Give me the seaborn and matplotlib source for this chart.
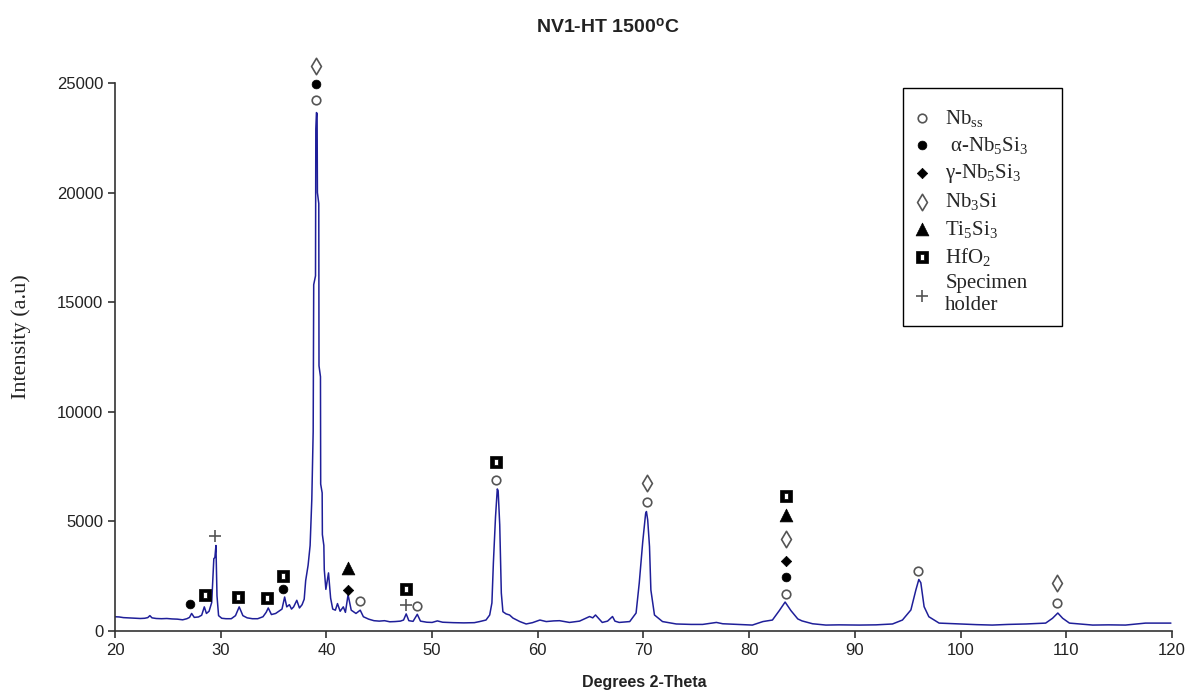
import matplotlib
matplotlib.use("Agg")
import matplotlib.pyplot as plt
import pandas as pd
import seaborn as sns
from matplotlib.path import Path
from matplotlib.patches import Rectangle

# XRD pattern (2-theta in degrees, intensity in a.u.)
two_theta = [
    20.0, 20.4, 20.8, 21.2, 21.6, 22.0, 22.4, 22.8, 23.1, 23.3, 23.5, 23.9,
    24.4, 24.9, 25.4, 25.9, 26.4, 26.8, 27.05, 27.25, 27.5, 27.9, 28.2, 28.45,
    28.65, 28.9, 29.15, 29.35, 29.45, 29.55, 29.65, 29.8, 30.1, 30.5, 31.0,
    31.4, 31.75, 32.1, 32.5, 33.0, 33.5, 34.0, 34.3, 34.5, 34.8, 35.2, 35.5,
    35.8, 36.05, 36.25, 36.5, 36.7, 36.9, 37.2, 37.45, 37.7, 37.9, 38.04,
    38.27, 38.46, 38.62, 38.75, 38.8, 38.97, 39.0, 39.06, 39.12, 39.15, 39.28,
    39.3, 39.44, 39.46, 39.6, 39.62, 39.76, 39.8, 39.95, 40.2, 40.4, 40.6,
    40.85, 41.05, 41.3, 41.6, 41.8, 42.05, 42.35, 42.8, 43.2, 43.5, 44.0,
    44.5, 45.0, 45.5, 46.0, 46.5, 47.0, 47.3, 47.55, 47.8, 48.2, 48.6, 48.9,
    49.5, 50.0, 50.5, 51.0, 52.0, 53.0, 54.0, 54.5, 55.1, 55.45, 55.66, 55.8,
    56.0, 56.17, 56.25, 56.4, 56.55, 56.7, 57.0, 57.33, 57.65, 58.3, 58.9,
    59.5, 60.2, 60.8, 61.5, 62.06, 63.0, 63.95, 64.9, 65.2, 65.46, 65.8, 66.1,
    66.6, 67.07, 67.3, 67.7, 68.7, 69.3, 69.6, 69.93, 70.2, 70.28, 70.4,
    70.57, 70.7, 71.04, 71.8, 73.1, 74.5, 75.6, 76.9, 77.5, 78.8, 80.3, 81.3,
    82.2, 82.85, 83.4, 83.95, 84.6, 85.0, 86.0, 87.26, 88.5, 90.4, 92.0,
    93.56, 94.5, 95.3, 95.77, 96.05, 96.24, 96.55, 97.0, 97.97, 99.87, 101.5,
    103.0, 104.5, 106.2, 108.05, 108.7, 109.2, 109.66, 110.3, 112.5, 114.0,
    115.6, 117.5, 119.9,
]
intensity = [
    650, 640, 610, 600, 590, 580, 570, 580, 610, 700, 600, 570,
    560, 570, 550, 540, 510, 560, 620, 800, 620, 640, 720, 1100,
    800, 900, 1300, 3300, 3350, 3900, 1600, 700, 580, 560, 560,
    700, 1100, 700, 600, 560, 560, 650, 850, 1050, 750, 800, 900,
    1000, 1550, 1100, 1200, 1000, 1100, 1400, 1050, 1200, 1450, 2300,
    3000, 3900, 6000, 9100, 15800, 16200, 22900, 23650, 23600, 20000, 19500,
    12100, 11600, 6700, 6300, 4400, 3900, 2800, 1900, 2650, 1500, 1000,
    950, 1250, 900, 1100, 850, 1650, 950, 800, 950, 650, 540,
    470, 450, 470, 420, 430, 450, 500, 780, 470, 440, 760, 450,
    400, 390, 460, 400, 380, 370, 380, 430, 500, 730, 1280, 3120,
    5200, 6480, 6400, 4840, 1730, 880, 780, 730, 590, 430, 320,
    380, 500, 430, 460, 470, 390, 450, 660, 600, 730, 550, 390,
    450, 660, 450, 390, 430, 820, 2190, 4070, 5350, 5450, 5060,
    3850, 1870, 730, 430, 320, 300, 300, 390, 330, 300, 270, 430,
    500, 930, 1320, 930, 550, 460, 330, 270, 280, 270, 280,
    320, 500, 960, 1870, 2350, 2200, 1110, 650, 360, 320, 290,
    270, 300, 320, 360, 580, 820, 580, 360, 270, 280,
    270, 360, 360,
]

# phase labels placed above the peaks
nbss_x = [39.0, 43.2, 48.6, 56.0, 70.3, 83.5, 96.0, 109.1]
nbss_y = [24225, 1370, 1140, 6890, 5885, 1690, 2740, 1280]
alpha_x = [27.1, 35.9, 39.0, 83.5]
alpha_y = [1230, 1915, 24955, 2465]
gamma_x = [42.0, 83.5]
gamma_y = [1870, 3195]
nb3si_x = [39.0, 70.3, 83.5, 109.1]
nb3si_y = [25775, 6750, 4195, 2190]
ti5si3_x = [42.0, 83.5]
ti5si3_y = [2875, 5290]
hfo2_x = [28.5, 31.6, 34.4, 35.9, 47.5, 56.0, 83.5]
hfo2_y = [1640, 1550, 1505, 2510, 1915, 7710, 6160]
holder_x = [29.45, 47.5]
holder_y = [4335, 1185]

x_ticks = [20, 30, 40, 50, 60, 70, 80, 90, 100, 110, 120]
y_ticks = [0, 5000, 10000, 15000, 20000, 25000]

LINE = "#1f1f99"
GREY = "#555555"

# black square with a white slot for HfO2
hfo2_marker = Path(
    [(-1, -1), (1, -1), (1, 1), (-1, 1), (-1, -1),
     (-0.35, -0.6), (-0.35, 0.6), (0.35, 0.6), (0.35, -0.6), (-0.35, -0.6)],
    [Path.MOVETO, Path.LINETO, Path.LINETO, Path.LINETO, Path.CLOSEPOLY,
     Path.MOVETO, Path.LINETO, Path.LINETO, Path.LINETO, Path.CLOSEPOLY],
)

sns.set_theme(style="ticks")
plt.rcParams["font.family"] = ["Liberation Sans", "DejaVu Sans"]
plt.rcParams["mathtext.fontset"] = "custom"
plt.rcParams["mathtext.rm"] = "Liberation Serif"
plt.rcParams["mathtext.it"] = "Liberation Serif:italic"
plt.rcParams["mathtext.bf"] = "Liberation Sans:bold"

fig = plt.figure(figsize=(11.88, 6.95), dpi=100)
ax = fig.add_axes([0.0968, 0.0921, 0.8897, 0.7885])

df = pd.DataFrame({"two_theta": two_theta, "intensity": intensity})
sns.lineplot(data=df, x="two_theta", y="intensity", color=LINE, linewidth=1.1,
             estimator=None, sort=False, ax=ax)

phases = [
    ("Nb$_{\\mathrm{ss}}$", nbss_x, nbss_y, "o", 38, "white", GREY, 1.2),
    (" α-Nb$_5$Si$_3$", alpha_x, alpha_y, "o", 40, "black", "black", 0.5),
    ("γ-Nb$_5$Si$_3$", gamma_x, gamma_y, "D", 28, "black", "black", 0.5),
    ("Nb$_3$Si", nb3si_x, nb3si_y, "d", 70, "white", GREY, 1.2),
    ("Ti$_5$Si$_3$", ti5si3_x, ti5si3_y, "^", 85, "black", "black", 0.5),
    ("HfO$_2$", hfo2_x, hfo2_y, hfo2_marker, 70, "black", "black", 0.5),
    ("Specimen\nholder", holder_x, holder_y, "+", 80, GREY, GREY, 1.2),
]
for label, xs, ys, marker, size, face, edge, lw in phases:
    sns.scatterplot(x=xs, y=ys, marker=marker, s=size, color=face,
                    edgecolor=edge, linewidth=lw, clip_on=False, zorder=3,
                    label=label, ax=ax)

ax.set_xlim(20, 120)
ax.set_ylim(0, 25000)
ax.set_xticks(x_ticks)
ax.set_yticks(y_ticks)
sns.despine(ax=ax)
for side in ["left", "bottom"]:
    ax.spines[side].set_color("#333333")
    ax.spines[side].set_linewidth(1.2)
ax.tick_params(direction="out", length=5, width=1.2, color="#333333",
               labelsize=12, labelcolor="#222222")

ax.set_xlabel("Degrees 2-Theta", fontsize=11.5, fontweight="bold", color="#222222")
ax.xaxis.set_label_coords(0.501, -0.08)
ax.set_ylabel("Intensity (a.u)", fontsize=16, family="Liberation Serif", color="#222222")
ax.yaxis.set_label_coords(-0.079, 0.538)

fig.text(0.512, 0.961, "NV1-HT 1500$^{\\mathbf{o}}$C", ha="center", va="center",
         fontsize=14, fontweight="bold", color="#222222")

handles, labels = ax.get_legend_handles_labels()
ax.legend(handles, labels, loc="upper left", bbox_to_anchor=(0.754, 0.955),
          frameon=False, borderpad=0, borderaxespad=0, handlelength=1.0,
          handletextpad=0.6, labelspacing=0.3, scatterpoints=1,
          prop={"family": "Liberation Serif", "size": 15})
ax.add_patch(Rectangle((0.7455, 0.5566), 0.1505, 0.4344, transform=ax.transAxes,
                       fill=False, edgecolor="black", linewidth=1.0, clip_on=False))

fig.savefig("out.png", dpi=100)
plt.close(fig)
